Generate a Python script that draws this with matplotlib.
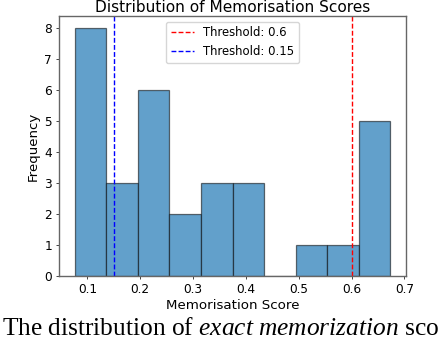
import numpy as np
import matplotlib
matplotlib.use("Agg")
import matplotlib.pyplot as plt

# Data
score_min = 0.0761
score_max = 0.6733
counts = [8, 3, 6, 2, 3, 3, 0, 1, 1, 5]
threshold_high = 0.6
threshold_low = 0.15
xticks = [0.1, 0.2, 0.3, 0.4, 0.5, 0.6, 0.7]
yticks = [0, 1, 2, 3, 4, 5, 6, 7, 8]

plt.rcParams['mathtext.fontset'] = 'custom'
plt.rcParams['mathtext.rm'] = 'Liberation Serif'
plt.rcParams['mathtext.it'] = 'Liberation Serif:italic'

fig = plt.figure(figsize=(4.48, 3.42), dpi=100)
ax = fig.add_axes([59/448, 1-276/342, (406-59)/448, (276-16)/342])

edges = np.linspace(score_min, score_max, len(counts) + 1)
ax.hist(edges[:-1], bins=edges, weights=counts, facecolor='#62a0cb',
        edgecolor=(0, 0, 0, 0.55), linewidth=0.9)

ax.axvline(threshold_high, color='red', linestyle='--', linewidth=1.0,
           dashes=(3.5, 1.6), label=f'Threshold: {threshold_high}')
ax.axvline(threshold_low, color='blue', linestyle='--', linewidth=1.0,
           dashes=(3.5, 1.6), label=f'Threshold: {threshold_low}')

ax.set_xticks(xticks)
ax.set_yticks(yticks)
ax.tick_params(axis='x', labelsize=8.7, length=2.5, width=0.7, pad=2.5, color='#444444')
ax.tick_params(axis='y', labelsize=8.7, length=2.5, width=0.7, pad=2.5, color='#444444')
for s in ax.spines.values():
    s.set_color('#666666')
    s.set_linewidth(1.0)

ax.set_xlabel('Memorisation Score', fontsize=9.6, labelpad=2)
ax.set_ylabel('Frequency', fontsize=9.6, labelpad=3)
ax.set_title('Distribution of Memorisation Scores', fontsize=11.1, pad=3)

ax.legend(loc='upper center', fontsize=8.4, handlelength=2.0,
          labelspacing=0.5, framealpha=0.8)

fig.text(1.5/448, 1-335/342, r'The distribution of $\mathit{exact\ memorization}$ sco',
         fontsize=18.3, family='Liberation Serif', ha='left', va='baseline')

fig.savefig('out.png', dpi=100)
